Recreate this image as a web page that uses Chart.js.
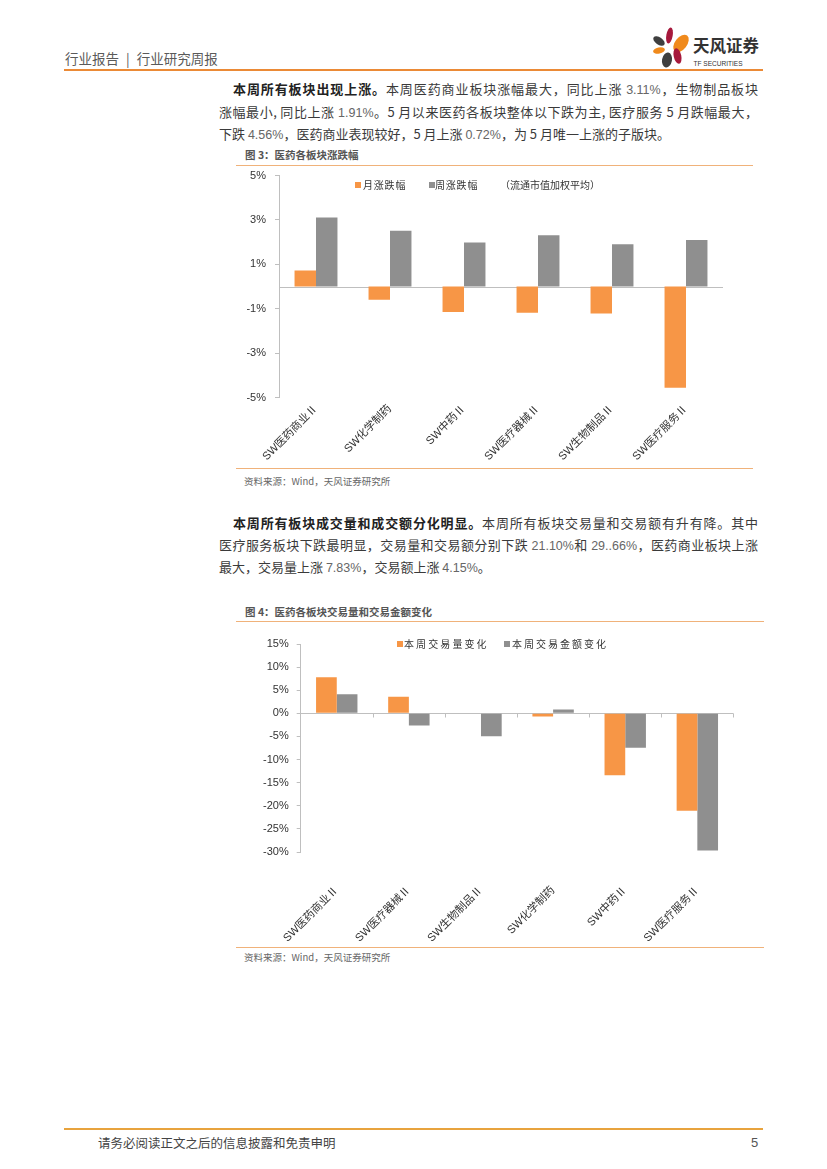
<!DOCTYPE html>
<html lang="zh-CN">
<head>
<meta charset="utf-8">
<title>医药各板块涨跌幅 / 交易量和交易金额变化</title>
<script src="https://cdn.jsdelivr.net/npm/chart.js@4.4.1/dist/chart.umd.min.js"></script>
<style>
  html, body { margin: 0; padding: 0; background: #fff; }
  #page { position: relative; width: 827px; height: 1169px; overflow: hidden;
          font-family: "Noto Sans CJK SC", "Noto Sans", sans-serif; color: #333; }
  .rule { position: absolute; height: 0; }
  .txt { position: absolute; white-space: nowrap; }
  .row { position: absolute; left: 219px; width: 539px; height: 22px; line-height: 22px;
         font-size: 13px; color: #3a3a3a; text-align: justify; text-align-last: justify; }
  .row.first { left: 233px; width: 525px; }
  .row.last { text-align-last: left; }
  .row b { color: #222; }
  .n { font-family: "Liberation Sans", Arial, sans-serif; font-size: 12.5px; color: #666; }
  .cap { font-size: 10.5px; line-height: 14px; font-weight: bold; color: #555; }
  .src { font-size: 9.5px; line-height: 12px; color: #666; }
  .lg { position: absolute; font-size: 10px; line-height: 12px; color: #333; white-space: nowrap; }
  .sw { position: absolute; width: 6px; height: 6px; }
  canvas { position: absolute; }
</style>
</head>
<body>
<div id="page">
  <!-- header -->
  <div class="txt" style="left:65px;top:48px;font-size:13.5px;line-height:20px;color:#5a5a5a;">行业报告<span style="margin:0 7px;">|</span>行业研究周报</div>
  <svg style="position:absolute;left:640px;top:20px" width="130" height="55" viewBox="0 0 130 55">
    <ellipse cx="29.5" cy="15.5" rx="3.2" ry="8" fill="#A6193C" transform="rotate(10 29.5 15.5)"/>
    <ellipse cx="41" cy="23.5" rx="6" ry="10" fill="#F08A1C" transform="rotate(38 41 23.5)"/>
    <ellipse cx="19" cy="21" rx="6.5" ry="3.6" fill="#3F3F3F" transform="rotate(35 19 21)"/>
    <ellipse cx="19" cy="30.5" rx="6" ry="3" fill="#F08A1C" transform="rotate(-12 19 30.5)"/>
    <ellipse cx="27" cy="40" rx="5" ry="7.5" fill="#3F3F3F" transform="rotate(10 27 40)"/>
    <ellipse cx="37.5" cy="36" rx="3.8" ry="8" fill="#A6193C" transform="rotate(-12 37.5 36)"/>
    <text x="53" y="32" font-size="16.5" font-weight="bold" fill="#333" font-family="Noto Sans CJK SC">天风证券</text>
    <text x="53.5" y="45.5" font-size="8" fill="#333" font-family="Liberation Sans" textLength="49" lengthAdjust="spacingAndGlyphs">TF SECURITIES</text>
  </svg>
  <div class="rule" style="left:64px;top:69px;width:699px;border-top:2px solid #EB8A36;"></div>

  <!-- paragraph 1 -->
  <div class="row first" style="top:78px;"><b>本周所有板块出现上涨。</b>本周医药商业板块涨幅最大，同比上涨 <span class="n">3.11%</span>，生物制品板块</div>
  <div class="row" style="top:100.5px;">涨幅最小, 同比上涨 <span class="n">1.91%</span>。5 月以来医药各板块整体以下跌为主, 医疗服务 5 月跌幅最大，</div>
  <div class="row last" style="top:123px;">下跌 <span class="n">4.56%</span>，医药商业表现较好，5 月上涨 <span class="n">0.72%</span>，为 5 月唯一上涨的子版块。</div>

  <!-- figure 3 -->
  <div class="txt cap" style="left:245px;top:148px;">图 3：医药各板块涨跌幅</div>
  <div class="rule" style="left:236px;top:165px;width:517px;border-top:1.5px solid #F0B27A;"></div>
  <canvas id="chart1" width="516" height="307" style="left:236px;top:160px;width:516px;height:307px;"></canvas>
  <div id="legend1"></div>
  <div class="rule" style="left:236px;top:468px;width:517px;border-top:1.5px solid #F0B27A;"></div>
  <div class="txt src" style="left:244px;top:475px;">资料来源：Wind，天风证券研究所</div>

  <!-- paragraph 2 -->
  <div class="row first" style="top:511.5px;"><b>本周所有板块成交量和成交额分化明显。</b>本周所有板块交易量和交易额有升有降。其中</div>
  <div class="row" style="top:534px;">医疗服务板块下跌最明显，交易量和交易额分别下跌 <span class="n">21.10%</span>和 <span class="n">29..66%</span>，医药商业板块上涨</div>
  <div class="row last" style="top:556px;">最大，交易量上涨 <span class="n">7.83%</span>，交易额上涨 <span class="n">4.15%</span>。</div>

  <!-- figure 4 -->
  <div class="txt cap" style="left:245px;top:604.5px;">图 4：医药各板块交易量和交易金额变化</div>
  <div class="rule" style="left:236px;top:621px;width:528px;border-top:1.5px solid #F0B27A;"></div>
  <canvas id="chart2" width="528" height="322" style="left:236px;top:623px;width:528px;height:322px;"></canvas>
  <div id="legend2"></div>
  <div class="rule" style="left:236px;top:946.5px;width:528px;border-top:1.5px solid #F0B27A;"></div>
  <div class="txt src" style="left:244px;top:951px;">资料来源：Wind，天风证券研究所</div>

  <!-- footer -->
  <div class="rule" style="left:64px;top:1128px;width:699px;border-top:2px solid #E8A33D;"></div>
  <div class="txt" style="left:98px;top:1133px;font-size:12.5px;line-height:19px;color:#444;">请务必阅读正文之后的信息披露和免责申明</div>
  <div class="txt" style="left:751px;top:1133px;font-family:'Liberation Sans',Arial,sans-serif;font-size:13px;line-height:19px;color:#555;">5</div>
</div>

<script>
// 图3 医药各板块涨跌幅 (%)
const cats1 = ["SW医药商业Ⅱ", "SW化学制药", "SW中药Ⅱ", "SW医疗器械Ⅱ", "SW生物制品Ⅱ", "SW医疗服务Ⅱ"];
const monthChg = [0.72, -0.60, -1.15, -1.18, -1.21, -4.56];
const weekChg = [3.11, 2.52, 1.99, 2.31, 1.91, 2.10];
const ticks1 = [-5, -3, -1, 1, 3, 5];

// 图4 医药各板块交易量和交易金额变化 (%)
const cats2 = ["SW医药商业Ⅱ", "SW医疗器械Ⅱ", "SW生物制品Ⅱ", "SW化学制药", "SW中药Ⅱ", "SW医疗服务Ⅱ"];
const volChg = [7.83, 3.60, -0.08, -0.70, -13.40, -21.10];
const amtChg = [4.15, -2.65, -4.95, 0.85, -7.45, -29.66];
const ticks2 = [-30, -25, -20, -15, -10, -5, 0, 5, 10, 15];

const ORANGE = "#F79646";
const GREY = "#8F8F8F";
const AXIS = "#BFBFBF";
const TICK_FONT = { family: "'Liberation Sans', Arial, sans-serif", size: 11 };
const CAT_FONT = { family: "'Liberation Sans', 'Noto Sans CJK SC', sans-serif", size: 11 };

// horizontal axis line through 0, plus small marks between categories
const zeroLine = {
    id: "zeroLine",
    beforeDatasetsDraw(chart, args, opts) {
        const { ctx, chartArea, scales: { x, y } } = chart;
        const yz = Math.round(y.getPixelForValue(0)) + 0.5;
        ctx.save();
        ctx.strokeStyle = AXIS;
        ctx.lineWidth = 1;
        ctx.beginPath();
        ctx.moveTo(chartArea.left, yz);
        ctx.lineTo(chartArea.right, yz);
        if (opts.marks) {
            for (let i = 1; i <= chart.data.labels.length; i++) {
                const px = Math.round(x.getPixelForValue(i - 0.5)) + 0.5;
                ctx.moveTo(px, yz);
                ctx.lineTo(px, yz + 4);
            }
        }
        ctx.stroke();
        ctx.restore();
    }
};

function barChart(id, cats, series, yTicks, box) {
    return new Chart(document.getElementById(id), {
        type: "bar",
        data: {
            labels: cats,
            datasets: series.map(s => ({
                label: s.label,
                data: s.data,
                backgroundColor: s.color,
                borderWidth: 0,
                categoryPercentage: box.cat,
                barPercentage: 1
            }))
        },
        options: {
            responsive: false,
            animation: false,
            layout: { padding: { top: box.top, right: box.right, left: 0, bottom: 0 } },
            plugins: {
                legend: { display: false },
                tooltip: { enabled: false },
                zeroLine: { marks: box.marks }
            },
            scales: {
                x: {
                    grid: { display: false, drawTicks: false },
                    border: { display: false },
                    ticks: {
                        font: CAT_FONT,
                        color: "#333",
                        autoSkip: false,
                        maxRotation: 45,
                        minRotation: 45,
                        padding: box.xPad
                    },
                    afterFit: s => { s.height = box.xH; }
                },
                y: {
                    min: yTicks[0],
                    max: yTicks[yTicks.length - 1],
                    afterBuildTicks: s => { s.ticks = yTicks.map(v => ({ value: v })); },
                    grid: { drawOnChartArea: false, drawTicks: true, tickLength: 4, color: AXIS },
                    border: { display: true, color: AXIS },
                    ticks: {
                        font: TICK_FONT,
                        color: "#333",
                        padding: box.yPad,
                        callback: v => v + "%"
                    },
                    afterFit: s => { s.width = box.yW; }
                }
            }
        },
        plugins: [zeroLine]
    });
}

const series1 = [
    { label: "月涨跌幅", data: monthChg, color: ORANGE },
    { label: "周涨跌幅", data: weekChg, color: GREY }
];
const series2 = [
    { label: "本周交易量变化", data: volChg, color: ORANGE },
    { label: "本周交易金额变化", data: amtChg, color: GREY }
];

barChart("chart1", cats1, series1, ticks1,
    { top: 15.5, right: 29, yW: 43, xH: 69.5, xPad: 5, yPad: 9, cat: 0.58, marks: false });
barChart("chart2", cats2, series2, ticks2,
    { top: 21, right: 30.6, yW: 64.7, xH: 93, xPad: 32, yPad: 8, cat: 0.574, marks: true });

// legends (html, sitting inside the plot area like the original)
function legend(id, items, cy) {
    const el = document.getElementById(id);
    items.forEach(it => {
        if (it.color) {
            const sw = document.createElement("div");
            sw.className = "sw";
            sw.style.cssText = `left:${it.sx}px;top:${cy - 3}px;background:${it.color};`;
            el.appendChild(sw);
        }
        const t = document.createElement("div");
        t.className = "lg";
        t.textContent = it.label;
        t.style.cssText = `left:${it.tx}px;top:${cy - 6}px;letter-spacing:${it.ls}px;`;
        el.appendChild(t);
    });
}
legend("legend1", [
    { label: series1[0].label, color: series1[0].color, sx: 355, tx: 363, ls: 0.8 },
    { label: series1[1].label, color: series1[1].color, sx: 429, tx: 435, ls: 0.8 },
    { label: "（流通市值加权平均）", tx: 500, ls: 0 }
], 185);
legend("legend2", [
    { label: series2[0].label, color: series2[0].color, sx: 397, tx: 404, ls: 2.1 },
    { label: series2[1].label, color: series2[1].color, sx: 504, tx: 512, ls: 2.0 }
], 644);
</script>
</body>
</html>
